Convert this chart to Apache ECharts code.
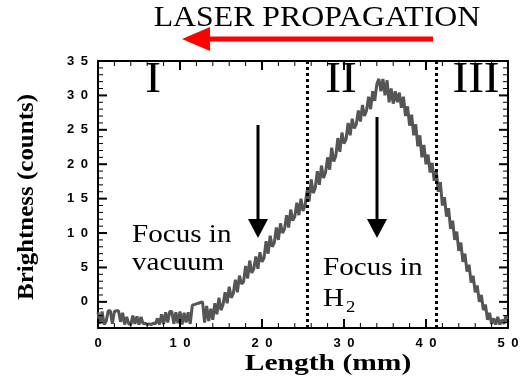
<!DOCTYPE html>
<html>
<head>
<meta charset="utf-8">
<script src="https://cdn.jsdelivr.net/npm/echarts@6/dist/echarts.min.js"></script>
<style>html,body{margin:0;padding:0;background:#fff}#c{width:523px;height:380px}</style>
</head>
<body>
<div id="c"></div>
<script>
// sampling grid of the trace (mm)
var sampleStartMm = 0;
var sampleStepMm = 0.25;
// brightness (counts), one per sample (rows of 2 mm)
var brightness = [
 -1.5,-3.2,-1.4,-3.3,-2.8,-1.3,-1.3,-3.2,
 -1.4,-1.3,-1.3,-2.9,-1.6,-3.3,-2.2,-3.2,
 -3.3,-2.0,-3.2,-2.1,-3.3,-2.2,-3.2,-3.1,
 -3.3,-3.2,-3.3,-3.1,-3.2,-2.4,-3.3,-1.8,
 -3.2,-1.5,-3.0,-1.4,-1.4,-3.2,-1.5,-3.1,
 -1.4,-3.3,-1.6,-3.0,-1.5,-3.2,-0.5,-0.4,
 -0.3,-0.2,-0.1,0.0,
 -3.0,-0.6,-2.8,-1.0,-2.6,-0.2,-1.8,0.6,
 -1.2,-0.4,1.4,-0.2,2.2,0.6,1.2,3.2,
 1.4,3.8,2.6,2.9,5.2,3.4,6.0,4.2,
 4.8,6.6,4.8,7.2,5.8,6.4,8.8,7.0,
 9.6,8.0,8.6,10.8,9.0,11.4,10.0,10.6,
 12.6,10.8,13.4,11.8,12.4,14.4,12.6,15.0,
 13.2,14.0,16.2,14.6,17.8,15.8,16.6,19.0,
 17.0,19.8,18.0,18.8,21.0,19.2,22.4,20.4,
 21.2,23.8,21.8,24.6,23.0,23.6,26.0,24.2,
 26.6,25.2,25.8,27.8,26.2,28.6,27.0,27.8,
 29.8,28.0,30.6,29.2,31.6,32.4,30.6,32.4,
 30.0,32.2,29.0,31.0,28.8,30.6,29.0,30.4,
 28.2,29.8,27.0,28.4,25.6,27.2,24.2,25.8,
 22.6,24.2,21.0,22.8,20.0,21.4,18.8,20.2,
 17.6,19.0,16.0,17.4,14.0,15.2,12.4,13.6,
 10.6,11.8,9.0,10.2,7.4,8.6,5.8,7.0,
 4.4,5.4,2.8,3.8,1.4,2.4,0.0,1.0,
 -1.2,-0.4,-2.6,-1.6,-3.2,-2.4,-3.3,-2.2,
 -3.3,-2.6,-3.2,-2.0,-3.0
];
// region boundaries (mm)
var regionBounds = [25.5, 41.3];
// tick positions / labels
var xMajorTicks = [0, 10, 20, 30, 40, 50];
var xMinorTicks = [2, 4, 6, 8, 12, 14, 16, 18, 22, 24, 26, 28, 32, 34, 36, 38, 42, 44, 46, 48];
var yMajorTicks = [0, 5, 10, 15, 20, 25, 30, 35];
var yMinorTicks = [-3,-2,-1,1,2,3,4,6,7,8,9,11,12,13,14,16,17,18,19,21,22,23,24,26,27,28,29,31,32,33,34];
var yRange = [-3.8, 35];
var xRange = [0, 50];

var MAJOR = 9, MINOR = 5;
var trace = brightness.map(function (v, i) { return [sampleStartMm + i * sampleStepMm, v]; });
var xTickData = xMajorTicks.map(function (v) { return [v, MAJOR]; }).concat(xMinorTicks.map(function (v) { return [v, MINOR]; }));
var yTickData = yMajorTicks.map(function (v) { return [v, MAJOR]; }).concat(yMinorTicks.map(function (v) { return [v, MINOR]; }));
function spaced(v) { return String(v).split('').join('\u2002'); }
var labelFont = { fontFamily: 'Liberation Sans', fontWeight: 'bold', fontSize: 13, color: '#000' };
var frame = { show: true, onZero: false, lineStyle: { color: '#000', width: 2 } };

function tickLine(x1, y1, x2, y2, len) {
  return { type: 'line', shape: { x1: x1, y1: y1, x2: x2, y2: y2 },
    style: { stroke: '#000', lineWidth: len > 6 ? 2 : 1 } };
}
function renderXTicks(params, api) {
  var v = api.value(0), len = api.value(1);
  var b = api.coord([v, yRange[0]]), t = api.coord([v, yRange[1]]);
  return { type: 'group', children: [
    tickLine(b[0], b[1], b[0], b[1] - len, len),
    tickLine(t[0], t[1], t[0], t[1] + len, len)
  ] };
}
function renderYTicks(params, api) {
  var v = api.value(0), len = api.value(1);
  var l = api.coord([xRange[0], v]), r = api.coord([xRange[1], v]);
  return { type: 'group', children: [
    tickLine(l[0], l[1], l[0] + len, l[1], len),
    tickLine(r[0], r[1], r[0] - len, r[1], len)
  ] };
}

var serif = 'Liberation Serif';
function txt(x, y, s, size, opts) {
  opts = opts || {};
  return {
    type: 'text', x: x, y: y, scaleX: opts.sx || 1, rotation: opts.rot || 0, z: 10,
    style: { text: s, fontFamily: serif, fontSize: size, fontWeight: opts.bold ? 'bold' : 'normal',
      fill: opts.color || '#000', align: opts.align || 'center', verticalAlign: 'middle' }
  };
}

var chart = echarts.init(document.getElementById('c'));
chart.setOption({
  animation: false,
  grid: { left: 98, right: 15, top: 61, bottom: 52 },
  xAxis: [
    { type: 'value', min: xRange[0], max: xRange[1], interval: 10, position: 'bottom',
      axisLine: frame, axisTick: { show: false }, splitLine: { show: false },
      axisLabel: Object.assign({ margin: 9, formatter: spaced }, labelFont) },
    { type: 'value', min: xRange[0], max: xRange[1], interval: 10, position: 'top',
      axisLine: frame, axisTick: { show: false }, splitLine: { show: false },
      axisLabel: { show: false } }
  ],
  yAxis: [
    { type: 'value', min: yRange[0], max: yRange[1], position: 'left',
      axisLine: frame, axisTick: { show: false }, splitLine: { show: false },
      axisLabel: Object.assign({ margin: 10, customValues: yMajorTicks, formatter: spaced }, labelFont) },
    { type: 'value', min: yRange[0], max: yRange[1], position: 'right',
      axisLine: frame, axisTick: { show: false }, splitLine: { show: false },
      axisLabel: { show: false } }
  ],
  series: [
    {
      type: 'line', data: trace, xAxisIndex: 0, yAxisIndex: 0, showSymbol: false,
      lineStyle: { color: '#555555', width: 3 }, z: 3,
      markLine: {
        silent: true, symbol: ['none', 'none'], label: { show: false },
        lineStyle: { color: '#000', width: 3, type: [3, 3] },
        data: regionBounds.map(function (b) { return { xAxis: b }; })
      }
    },
    { type: 'custom', data: xTickData, xAxisIndex: 0, yAxisIndex: 0, renderItem: renderXTicks,
      encode: { x: 0 }, silent: true, z: 4, clip: false },
    { type: 'custom', data: yTickData, xAxisIndex: 0, yAxisIndex: 0, renderItem: renderYTicks,
      encode: { y: 0 }, silent: true, z: 4, clip: false }
  ],
  graphic: [
    txt(317, 18, 'LASER PROPAGATION', 30, { sx: 1.06 }),
    { type: 'line', shape: { x1: 208, y1: 39, x2: 433, y2: 39 }, style: { stroke: '#ff0000', lineWidth: 5 } },
    { type: 'polygon', shape: { points: [[182, 39], [210, 27], [210, 51]] }, style: { fill: '#ff0000' } },
    txt(153, 80, 'I', 45, { sx: 1.05 }),
    txt(341, 80, 'II', 45, { sx: 1.05 }),
    txt(476, 80, 'III', 45, { sx: 1.05 }),
    txt(132, 235, 'Focus in', 26, { sx: 1.12, align: 'left' }),
    txt(132, 263, 'vacuum', 26, { sx: 1.12, align: 'left' }),
    txt(323, 268, 'Focus in', 26, { sx: 1.12, align: 'left' }),
    txt(323, 299, 'H', 26, { sx: 1.12, align: 'left' }),
    txt(346, 308, '2', 17, { sx: 1.1, align: 'left' }),
    { type: 'line', shape: { x1: 258, y1: 125, x2: 258, y2: 222 }, style: { stroke: '#000', lineWidth: 3 } },
    { type: 'polygon', shape: { points: [[248, 219], [268, 219], [258, 238]] }, style: { fill: '#000' } },
    { type: 'line', shape: { x1: 377, y1: 117, x2: 377, y2: 222 }, style: { stroke: '#000', lineWidth: 3 } },
    { type: 'polygon', shape: { points: [[367, 219], [387, 219], [377, 238]] }, style: { fill: '#000' } },
    txt(328, 364, 'Length (mm)', 24, { sx: 1.23, bold: true }),
    txt(27, 197, 'Brightness (counts)', 24, { sx: 1.04, bold: true, rot: Math.PI / 2 })
  ]
});
</script>
</body>
</html>
